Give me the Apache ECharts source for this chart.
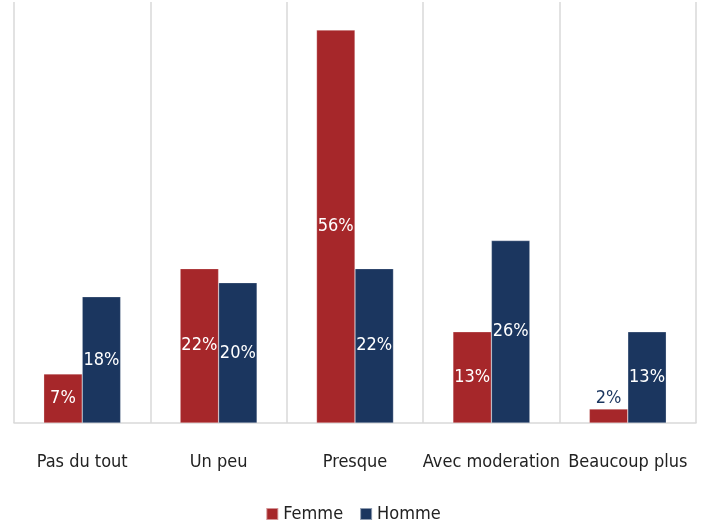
<!DOCTYPE html>
<html>
<head>
<meta charset="utf-8">
<script src="https://cdn.jsdelivr.net/npm/echarts@6/dist/echarts.min.js"></script>
<style>
  html, body { margin: 0; padding: 0; background: #ffffff; }
  #chart { width: 706px; height: 532px; }
</style>
</head>
<body>
<div id="chart"></div>
<script>
// Survey responses by gender (percent)
const categories = ['Pas du tout', 'Un peu', 'Presque', 'Avec moderation', 'Beaucoup plus'];
const femme = [7, 22, 56, 13, 2];
const homme = [18, 20, 22, 26, 13];

const FONT = '"DejaVu Sans Condensed", "Liberation Sans Narrow", sans-serif';
const RED = '#A6272A';
const NAVY = '#1B365F';

const chart = echarts.init(document.getElementById('chart'), null, { renderer: 'canvas' });

function valueLabel(color) {
  return {
    show: true,
    position: 'inside',
    formatter: '{c}%',
    color: color,
    fontFamily: FONT,
    fontSize: 18
  };
}

chart.setOption({
  animation: false,
  backgroundColor: '#ffffff',
  grid: { left: 14, right: 10, top: 2, bottom: 109 },
  legend: {
    bottom: 4,
    left: 'center',
    itemWidth: 12,
    itemHeight: 12,
    itemGap: 16,
    icon: 'rect',
    textStyle: { fontFamily: FONT, fontSize: 18, color: '#222' },
    data: ['Femme', 'Homme']
  },
  xAxis: {
    type: 'category',
    data: categories,
    axisLine: { show: true, lineStyle: { color: '#d9d9d9', width: 1.5 } },
    axisTick: { show: false },
    splitLine: { show: true, interval: 0, lineStyle: { color: '#d9d9d9', width: 1.5 } },
    axisLabel: { interval: 0, fontFamily: FONT, fontSize: 18, color: '#222', margin: 30 }
  },
  yAxis: {
    type: 'value',
    min: 0,
    max: 60,
    show: false,
    splitLine: { show: false }
  },
  series: [
    {
      name: 'Femme',
      type: 'bar',
      data: femme.map(v => ({
        value: v,
        label: v < 5 ? { position: 'top', color: NAVY, distance: 2 } : undefined
      })),
      itemStyle: { color: RED, borderColor: 'rgba(255,255,255,0.5)', borderWidth: 0.5 },
      barGap: '0%',
      barCategoryGap: '43.6%',
      label: valueLabel('#ffffff')
    },
    {
      name: 'Homme',
      type: 'bar',
      data: homme,
      itemStyle: { color: NAVY, borderColor: 'rgba(255,255,255,0.5)', borderWidth: 0.5 },
      barGap: '0%',
      barCategoryGap: '43.6%',
      label: valueLabel('#ffffff')
    }
  ]
});
</script>
</body>
</html>
